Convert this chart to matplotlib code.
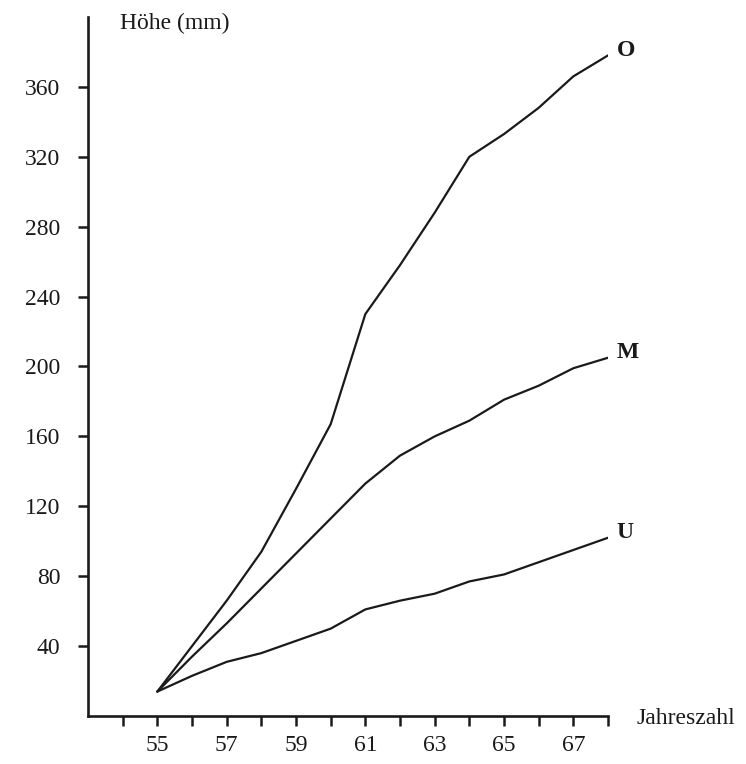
import matplotlib
matplotlib.use('Agg')
import matplotlib.pyplot as plt
import numpy as np

# Jahreswerte der drei Messreihen (Höhe in mm)
jahre = [55, 56, 57, 58, 59, 60, 61, 62, 63, 64, 65, 66, 67, 68]
hoehe_o = [14, 40, 66, 94, 130, 167, 230, 258, 288, 320, 333, 348, 366, 378]
hoehe_m = [14, 34, 53, 73, 93, 113, 133, 149, 160, 169, 181, 189, 199, 205]
hoehe_u = [14, 23, 31, 36, 43, 50, 61, 66, 70, 77, 81, 88, 95, 102]
reihen = ["O", "M", "U"]

y_ticks = [40, 80, 120, 160, 200, 240, 280, 320, 360]
x_ticks = list(range(54, 69))
x_labels = [str(j) if j % 2 == 1 and j < 68 else "" for j in x_ticks]

plt.rcParams['font.family'] = ['Liberation Serif', 'DejaVu Serif']
fs = 17

fig = plt.figure(figsize=(7.46, 7.64), dpi=100)
ax = fig.add_axes([0.118, 0.0628, 0.697, 0.915])

for werte, name in zip([hoehe_o, hoehe_m, hoehe_u], reihen):
    ax.plot(jahre, werte, color='#1a1a1a', lw=1.6, solid_capstyle='round')
    ax.text(jahre[-1] + 0.25, werte[-1] + 3, name, fontsize=fs,
            fontweight='bold', color='#1a1a1a', va='center', ha='left')

ax.set_xlim(53, 68)
ax.set_ylim(0, 400)

for s in ['top', 'right']:
    ax.spines[s].set_visible(False)
for s in ['left', 'bottom']:
    ax.spines[s].set_linewidth(1.9)
    ax.spines[s].set_color('#1a1a1a')

ax.set_yticks(y_ticks)
ax.set_yticklabels([str(v) for v in y_ticks])
ax.set_xticks(x_ticks)
ax.set_xticklabels(x_labels)
ax.tick_params(axis='both', direction='out', length=7, width=1.8,
               color='#1a1a1a', labelsize=fs, labelcolor='#1a1a1a')
ax.tick_params(axis='x', pad=7)
ax.tick_params(axis='y', pad=13)

ax.text(0.0615, 0.99, "Höhe (mm)", transform=ax.transAxes, fontsize=fs,
        color='#1a1a1a', ha='left', va='center')
ax.text(1.054, -0.004, "Jahreszahl", transform=ax.transAxes, fontsize=fs,
        color='#1a1a1a', ha='left', va='center')

fig.savefig('out.png', dpi=100, facecolor='white')
